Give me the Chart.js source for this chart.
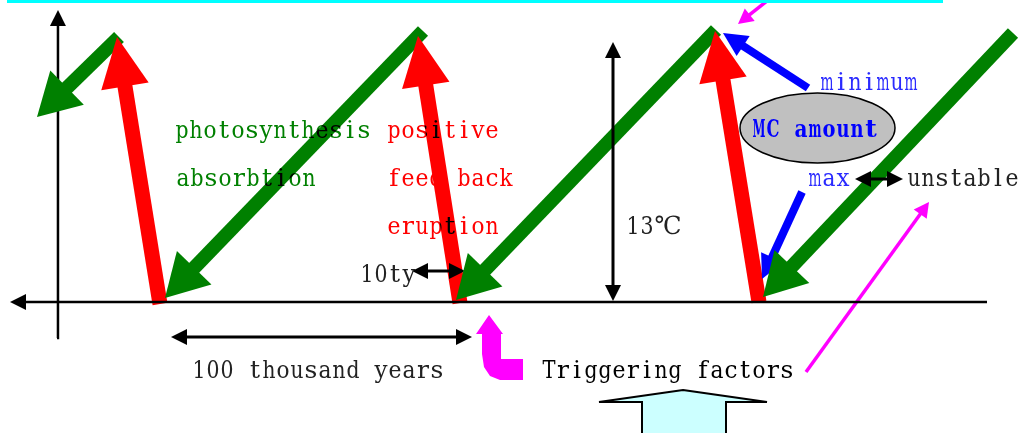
<!DOCTYPE html>
<html>
<head>
<meta charset="utf-8">
<script src="https://cdn.jsdelivr.net/npm/chart.js@4.4.1/dist/chart.umd.min.js"></script>
<style>
  html, body { margin: 0; padding: 0; background: #fff; overflow: hidden; }
</style>
</head>
<body>
<canvas id="cycle" width="1019" height="433"></canvas>
<script>
// arrows: tail x, tail y, tip x, tip y (plot units, y runs downward)
const greenArrows = [[119, 37, 37, 117], [423, 31, 165, 298], [716, 30, 456, 300], [1013, 33, 763, 297]];
const redArrows = [[160, 304, 117, 37], [460, 303, 418, 36], [759, 302, 715, 31]];
const blueArrows = [[808, 88, 723, 33], [802, 192, 762, 279]];
const pinkArrows = [[772, -3, 738, 24], [806, 372, 929, 202]];
const axisArrows = [[57, 338, 58, 10], [987, 302, 10, 302]];
const spanArrows = [[171, 337, 472, 337], [412, 271, 465, 271], [613, 42, 613, 301], [855, 179, 903, 179]];
const topBar = [[7, 1.5], [943, 1.5]];
const curlOutline = [[523, 359], [501, 359], [501, 334], [503, 334], [489, 315], [476, 334], [482, 334],
  [482, 354], [484, 367], [490, 376], [500, 380], [523, 380]];
const blockOutline = [[683, 390], [767, 402], [726, 402], [726, 440], [642, 440], [642, 402], [599, 402]];
const mcCloud = [817.5, 128, 77.5, 35];

const labels = [
  { t: 'photosynthesis', x: 175, y: 138, c: '#008000' },
  { t: 'absorbtion', x: 176, y: 186, c: '#008000' },
  { t: 'positive', x: 387, y: 138, c: '#ff0000' },
  { t: 'feed back', x: 387, y: 186, c: '#ff0000', hidden: true },
  { t: 'eruption', x: 387, y: 234, c: '#ff0000' },
  { t: '13℃', x: 626, y: 234, c: '#222' },
  { t: '10ty', x: 360, y: 282, c: '#222' },
  { t: 'minimum', x: 820, y: 90, c: '#2a2aff' },
  { t: 'MC amount', x: 752, y: 137, c: '#0000ff', b: true },
  { t: 'max', x: 808, y: 186, c: '#2a2aff' },
  { t: 'unstable', x: 907, y: 186, c: '#222' },
  { t: '100 thousand years', x: 192, y: 378, c: '#222' },
  { t: 'Triggering factors', x: 542, y: 378, c: '#000' }
];

function unit(ax, ay, bx, by) {
  const dx = bx - ax, dy = by - ay, l = Math.hypot(dx, dy);
  return [dx / l, dy / l];
}

// one line dataset per arrow shaft, stopped inside the head
function arrowSets(list, color, width, len, half, both, knock) {
  return list.map(a => {
    const [tx, ty, hx, hy] = a;
    const [ux, uy] = unit(hx, hy, tx, ty);
    const k = len * 0.7;
    const end = { x: hx + ux * k, y: hy + uy * k };
    const start = both ? { x: tx - ux * k, y: ty - uy * k } : { x: tx, y: ty };
    return {
      data: [start, end],
      borderColor: color,
      borderWidth: width,
      showLine: true,
      pointRadius: 0,
      borderCapStyle: 'butt',
      arrow: { a, len, half, both, color, knock }
    };
  });
}

const datasets = [
  { data: topBar.map(p => ({ x: p[0], y: p[1] })), borderColor: '#00ffff', borderWidth: 3, showLine: true, pointRadius: 0, borderCapStyle: 'butt' },
  ...arrowSets(axisArrows, '#000', 2.5, 16, 8, false),
  ...arrowSets(spanArrows, '#000', 3, 16, 8, true),
  ...arrowSets(pinkArrows, '#ff00ff', 3.5, 15, 8, false),
  ...arrowSets(blueArrows, '#0000ff', 8, 24, 12, false),
  ...arrowSets(greenArrows, '#008000', 14, 42, 24, false, true),
  ...arrowSets(redArrows, '#ff0000', 15, 50, 24, false, true)
];

function px(chart, p) {
  return [chart.scales.x.getPixelForValue(p[0]), chart.scales.y.getPixelForValue(p[1])];
}

function headPoints(chart, arrow, atTail) {
  const a = arrow.a;
  let tip = px(chart, [a[2], a[3]]), tail = px(chart, [a[0], a[1]]);
  if (atTail) { const t = tip; tip = tail; tail = t; }
  const [ux, uy] = unit(tip[0], tip[1], tail[0], tail[1]);
  const bx = tip[0] + ux * arrow.len, by = tip[1] + uy * arrow.len;
  return [tip, [bx - uy * arrow.half, by + ux * arrow.half], [bx + uy * arrow.half, by - ux * arrow.half]];
}

function shaftPoints(chart, ds) {
  const s = px(chart, [ds.data[0].x, ds.data[0].y]), e = px(chart, [ds.data[1].x, ds.data[1].y]);
  const [ux, uy] = unit(s[0], s[1], e[0], e[1]);
  const w = ds.borderWidth / 2;
  return [[s[0] - uy * w, s[1] + ux * w], [e[0] - uy * w, e[1] + ux * w], [e[0] + uy * w, e[1] - ux * w], [s[0] + uy * w, s[1] - ux * w]];
}

function polygon(ctx, pts) {
  ctx.moveTo(pts[0][0], pts[0][1]);
  for (let i = 1; i < pts.length; i++) ctx.lineTo(pts[i][0], pts[i][1]);
  ctx.closePath();
}

// fixed-pitch text, wide glyphs squeezed into their cell
function monoText(ctx, lab, color) {
  const pitch = 14;
  ctx.font = (lab.b ? 'bold ' : '') + '25px "DejaVu Serif", "Liberation Serif", "Noto Sans CJK SC"';
  ctx.fillStyle = color;
  ctx.textAlign = 'center';
  ctx.textBaseline = 'alphabetic';
  let x = lab.x;
  for (const ch of lab.t) {
    const cells = ch.charCodeAt(0) > 0x2000 ? 2 : 1;
    const cw = pitch * cells;
    const w = ctx.measureText(ch).width;
    const s = Math.min(1, (cw - 1) / Math.max(w, 1));
    ctx.save();
    ctx.translate(x + cw / 2, lab.y);
    ctx.scale(s, 1);
    ctx.fillText(ch, 0, 0);
    ctx.restore();
    x += cw;
  }
}

const diagram = {
  id: 'diagram',
  afterDatasetsDraw(chart) {
    const ctx = chart.ctx;
    ctx.save();
    // arrow heads
    chart.data.datasets.forEach(ds => {
      if (!ds.arrow) return;
      ctx.fillStyle = ds.arrow.color;
      ctx.beginPath();
      polygon(ctx, headPoints(chart, ds.arrow, false));
      if (ds.arrow.both) polygon(ctx, headPoints(chart, ds.arrow, true));
      ctx.fill();
    });
    // trigger curl
    ctx.fillStyle = '#ff00ff';
    ctx.beginPath();
    polygon(ctx, curlOutline.map(p => px(chart, p)));
    ctx.fill();
    // block arrow from below
    ctx.fillStyle = '#ccffff';
    ctx.strokeStyle = '#000';
    ctx.lineWidth = 2;
    ctx.beginPath();
    polygon(ctx, blockOutline.map(p => px(chart, p)));
    ctx.fill();
    ctx.stroke();
    // MC amount ellipse
    const c = px(chart, [mcCloud[0], mcCloud[1]]);
    const r = px(chart, [mcCloud[0] + mcCloud[2], mcCloud[1] + mcCloud[3]]);
    ctx.fillStyle = '#c0c0c0';
    ctx.lineWidth = 1.5;
    ctx.beginPath();
    ctx.ellipse(c[0], c[1], r[0] - c[0], r[1] - c[1], 0, 0, Math.PI * 2);
    ctx.fill();
    ctx.stroke();
    ctx.restore();
  },
  afterDraw(chart) {
    const ctx = chart.ctx;
    labels.forEach(lab => {
      ctx.save();
      monoText(ctx, lab, lab.c);
      ctx.restore();
    });
    // letters lying on a thick arrow of the same colour show up black
    ctx.save();
    ctx.beginPath();
    chart.data.datasets.forEach(ds => {
      if (!ds.arrow || !ds.arrow.knock) return;
      polygon(ctx, shaftPoints(chart, ds));
      polygon(ctx, headPoints(chart, ds.arrow, false));
    });
    ctx.clip('nonzero');
    labels.forEach(lab => {
      if (lab.c === '#008000' || lab.c === '#ff0000') monoText(ctx, lab, lab.hidden ? lab.c : '#000');
    });
    ctx.restore();
  }
};

new Chart(document.getElementById('cycle'), {
  type: 'scatter',
  data: { datasets },
  options: {
    responsive: false,
    animation: false,
    events: [],
    layout: { padding: 0 },
    plugins: { legend: { display: false }, tooltip: { enabled: false } },
    elements: { line: { tension: 0 } },
    scales: {
      x: { type: 'linear', min: 0, max: 1019, display: false },
      y: { type: 'linear', min: 0, max: 433, reverse: true, display: false }
    }
  },
  plugins: [diagram]
});
</script>
</body>
</html>
